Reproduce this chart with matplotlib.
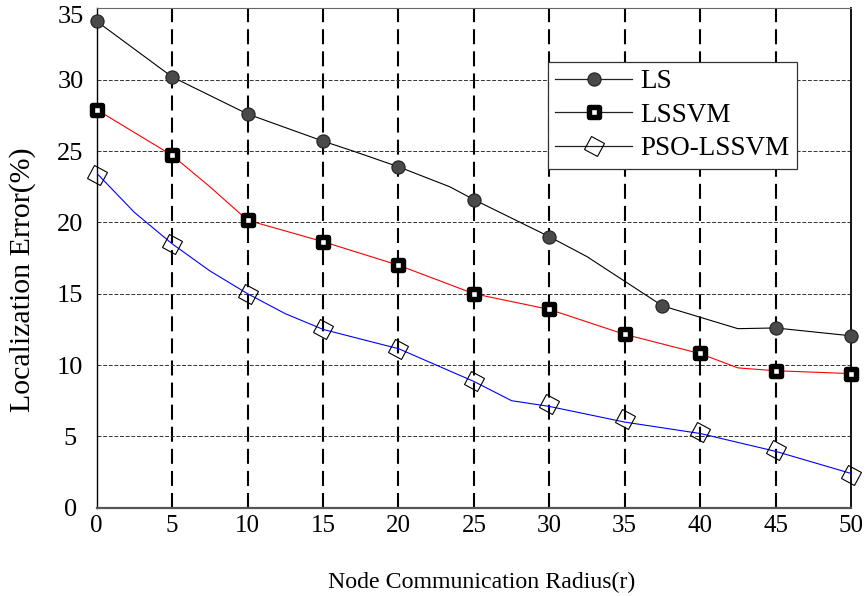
import matplotlib
matplotlib.use('Agg')
import matplotlib.pyplot as plt
from matplotlib.lines import Line2D
from matplotlib.markers import MarkerStyle
from matplotlib.transforms import Affine2D, ScaledTranslation

plt.rcParams['font.family'] = ['Liberation Serif', 'DejaVu Serif']

# ---- data ----
x_ticks = [0, 5, 10, 15, 20, 25, 30, 35, 40, 45, 50]
y_ticks = [0, 5, 10, 15, 20, 25, 30, 35]
series_names = ['LS', 'LSSVM', 'PSO-LSSVM']

ls_line_x = [0, 5, 10, 15, 17, 20, 23.4, 25, 30, 32.5, 37.5, 42.5, 45, 50]
ls_line_y = [34.1, 30.2, 27.6, 25.7, 25.0, 23.9, 22.5, 21.6, 19.0, 17.6, 14.15, 12.55, 12.6, 12.05]
ls_mark_x = [0, 5, 10, 15, 20, 25, 30, 37.5, 45, 50]
ls_mark_y = [34.1, 30.2, 27.6, 25.7, 23.9, 21.6, 19.0, 14.15, 12.6, 12.05]

lssvm_line_x = [0, 5, 7.5, 10, 15, 20, 25, 30, 35, 40, 42.5, 45, 50]
lssvm_line_y = [27.9, 24.7, 22.5, 20.15, 18.65, 17.0, 15.0, 13.9, 12.15, 10.8, 9.8, 9.6, 9.4]
lssvm_mark_x = [0, 5, 10, 15, 20, 25, 30, 35, 40, 45, 50]
lssvm_mark_y = [27.9, 24.7, 20.15, 18.65, 17.0, 15.0, 13.9, 12.15, 10.85, 9.6, 9.4]

pso_line_x = [0, 2.5, 5, 7.5, 10, 12.5, 15, 18.5, 20, 25, 27.5, 30, 35, 40, 45, 50]
pso_line_y = [23.45, 20.7, 18.5, 16.6, 15.0, 13.6, 12.5, 11.55, 11.15, 8.85, 7.5, 7.1, 6.0, 5.2, 3.95, 2.4]
pso_mark_x = [0, 5, 10, 15, 20, 25, 30, 35, 40, 45, 50]
pso_mark_y = [23.3, 18.5, 15.0, 12.5, 11.15, 8.85, 7.3, 6.2, 5.3, 4.05, 2.3]

# ---- styles ----
sq_marker = MarkerStyle('s', joinstyle='round')
dia_marker = MarkerStyle('D', transform=Affine2D().rotate_deg(14))
ls_mk = dict(marker='o', ms=9.5, mfc='#4a4a4a', mec='#202020', mew=0.8)
lssvm_mk = dict(marker=sq_marker, ms=7, mfc='white', mec='black', mew=3.9)
pso_mk = dict(marker=dia_marker, ms=11, mfc='none', mec='black', mew=0.8)

fig = plt.figure(figsize=(8.66, 5.96), dpi=100)
ax = fig.add_axes([0.1117, 0.1482, 0.8710, 0.8376])

ax.plot(ls_line_x, ls_line_y, color='black', lw=0.8, zorder=3)
ax.plot(lssvm_line_x, lssvm_line_y, color='red', lw=0.8, zorder=3)
ax.plot(pso_line_x, pso_line_y, color='blue', lw=0.8, zorder=3)

ax.plot(ls_mark_x, ls_mark_y, ls='none', zorder=4, clip_on=False, **ls_mk)
ax.plot(lssvm_mark_x, lssvm_mark_y, ls='none', zorder=4, clip_on=False, **lssvm_mk)
ax.plot(pso_mark_x, pso_mark_y, ls='none', zorder=4, clip_on=False, **pso_mk)

ax.set_xlim(x_ticks[0], x_ticks[-1])
ax.set_ylim(y_ticks[0], y_ticks[-1])
ax.set_xticks(x_ticks)
ax.set_yticks(y_ticks)
ax.set_axisbelow(True)

ax.xaxis.grid(True, color='black', lw=1.5, linestyle=(0, (7.2, 3.4)))
ax.yaxis.grid(True, color='#333333', lw=0.7, linestyle=(0, (4, 1.8)))
xg = ax.get_xgridlines()
xg[0].set_visible(False)
xg[-1].set_visible(False)
yg = ax.get_ygridlines()
yg[0].set_visible(False)
yg[-1].set_visible(False)

ax.tick_params(axis='both', length=0)
ax.tick_params(axis='x', pad=5, labelsize=18)
ax.tick_params(axis='y', pad=19, labelsize=19)
ylabs = ax.get_yticklabels()
for lab in ylabs:
    lab.set_horizontalalignment('center')
top_lab = ax.yaxis.get_major_ticks()[-1].label1
top_lab.set_transform(top_lab.get_transform() + ScaledTranslation(0, -6 / 100, fig.dpi_scale_trans))

ax.spines['left'].set_color('black'); ax.spines['left'].set_linewidth(1.0)
ax.spines['bottom'].set_color('#555555'); ax.spines['bottom'].set_linewidth(1.6)
ax.spines['top'].set_color('#666666'); ax.spines['top'].set_linewidth(0.8)
ax.spines['right'].set_color('black'); ax.spines['right'].set_linewidth(1.3)

fig.text(481.5 / 866, 1 - 582 / 596, 'Node Communication Radius(r)', fontsize=17.2,
         ha='center', va='center')
fig.text(23 / 866, 1 - 280 / 596, 'Localization Error(%)', fontsize=21.5,
         ha='center', va='center', rotation=90)

handles = [
    Line2D([], [], color='#222222', lw=0.9, **ls_mk),
    Line2D([], [], color='#222222', lw=0.9, **lssvm_mk),
    Line2D([], [], color='#222222', lw=0.9, **pso_mk),
]
leg = ax.legend(handles, series_names, loc='upper left', bbox_to_anchor=(0.598, 0.893),
                fontsize=19.5, frameon=True, fancybox=False, framealpha=1,
                edgecolor='#333333', handlelength=2.82, handletextpad=0.3,
                borderpad=0.28, labelspacing=0.31, borderaxespad=0)
leg.get_frame().set_linewidth(0.9)
leg.set_zorder(10)

fig.savefig('out.png', dpi=100)
